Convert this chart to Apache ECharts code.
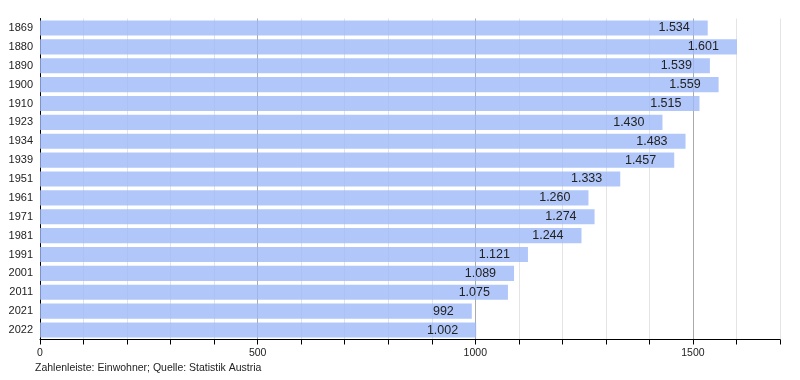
<!DOCTYPE html>
<html><head><meta charset="utf-8">
<script src="https://cdn.jsdelivr.net/npm/echarts@6/dist/echarts.min.js"></script>
<style>html,body{margin:0;padding:0;background:#fff}#c{width:800px;height:380px}</style>
</head><body><div id="c"></div>
<script>
const years = ['1869','1880','1890','1900','1910','1923','1934','1939','1951','1961','1971','1981','1991','2001','2011','2021','2022'];
const population = [1534,1601,1539,1559,1515,1430,1483,1457,1333,1260,1274,1244,1121,1089,1075,992,1002];
const footnote = 'Zahlenleiste: Einwohner; Quelle: Statistik Austria';

function fmt(v){ return String(v).replace(/\B(?=(\d{3})+(?!\d))/g,'.'); }

const chart = echarts.init(document.getElementById('c'), null, {renderer:'canvas'});
chart.setOption({
  animation:false,
  textStyle:{fontFamily:'Liberation Sans, Arial, sans-serif'},
  grid:{left:40,right:20,top:18.5,bottom:40.5,containLabel:false},
  xAxis:{
    type:'value',min:0,max:1700,interval:100,
    axisLine:{show:true,lineStyle:{color:'#000',width:1}},
    axisTick:{show:true,length:5,lineStyle:{color:'#000'}},
    axisLabel:{color:'#222',fontSize:10.5,margin:8,
      formatter:v=> (v%500===0 ? String(v) : '')},
    splitLine:{show:true,lineStyle:{color:['#aaaaaa','#e4e4e4','#e4e4e4','#e4e4e4','#e4e4e4'],width:1}}
  },
  yAxis:{
    type:'category',data:years,inverse:true,
    axisLine:{show:true,lineStyle:{color:'#000',width:1}},
    axisTick:{show:false},
    axisLabel:{color:'#222',fontSize:11,margin:7}
  },
  series:[{
    type:'bar',data:population,barCategoryGap:'20%',
    itemStyle:{color:'rgba(158,185,249,0.8)'},
    label:{show:true,position:'insideRight',distance:18,color:'#222',fontSize:12.5,
      formatter:p=>fmt(p.value)}
  }],
  graphic:[{type:'text',left:35,top:363,style:{text:footnote,fill:'#222',fontSize:10.5,fontFamily:'Liberation Sans, Arial, sans-serif'}}]
});
</script></body></html>
